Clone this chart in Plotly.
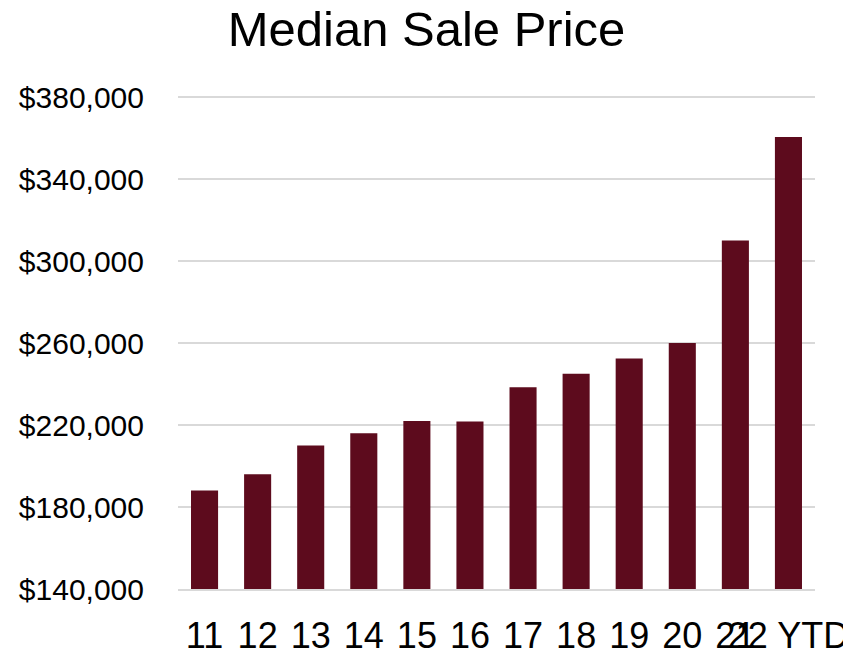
import plotly.graph_objects as go

categories = ["11", "12", "13", "14", "15", "16", "17", "18", "19", "20", "21", "22 YTD"]
median_price = [188000, 196000, 210000, 216000, 222000, 221700, 238400, 245000, 252500, 260000, 310000, 360500]
y_ticks = [140000, 180000, 220000, 260000, 300000, 340000, 380000]
y_tick_labels = ["$140,000", "$180,000", "$220,000", "$260,000", "$300,000", "$340,000", "$380,000"]

FONT = "Liberation Sans, Arial, sans-serif"
GRID = "#D9D9D9"

W, H = 843, 641  # page body has an 8px margin inside the 851x649 window

fig = go.Figure(
    go.Bar(
        x=categories,
        y=median_price,
        marker=dict(color="#5D0B1D", line=dict(width=0)),
        hoverinfo="x+y",
    )
)

fig.update_layout(
    width=W,
    height=H,
    paper_bgcolor="white",
    plot_bgcolor="white",
    margin=dict(l=170, r=36, t=86, b=60, autoexpand=False),
    bargap=0.49,
    showlegend=False,
    title=dict(
        text="Median Sale Price",
        font=dict(family=FONT, size=49, color="black"),
        x=418.5 / W,
        xanchor="center",
        xref="container",
        y=1 - 20.5 / H,
        yref="container",
        yanchor="middle",
    ),
    font=dict(family=FONT, color="black"),
)

fig.update_xaxes(
    type="category",
    tickangle=0,
    tickfont=dict(family=FONT, size=36, color="black"),
    showgrid=False,
    showline=True,
    linecolor=GRID,
    linewidth=1.8,
    ticks="",
    ticklabelstandoff=14,
    automargin=False,
)

fig.update_yaxes(
    range=[140000, 381500],
    tickvals=y_ticks,
    ticktext=y_tick_labels,
    tickfont=dict(family=FONT, size=30, color="black"),
    showgrid=True,
    gridcolor=GRID,
    gridwidth=1.8,
    zeroline=False,
    showline=False,
    ticks="",
    ticklabelstandoff=33,
    automargin=False,
)

fig.write_html("out.html")
